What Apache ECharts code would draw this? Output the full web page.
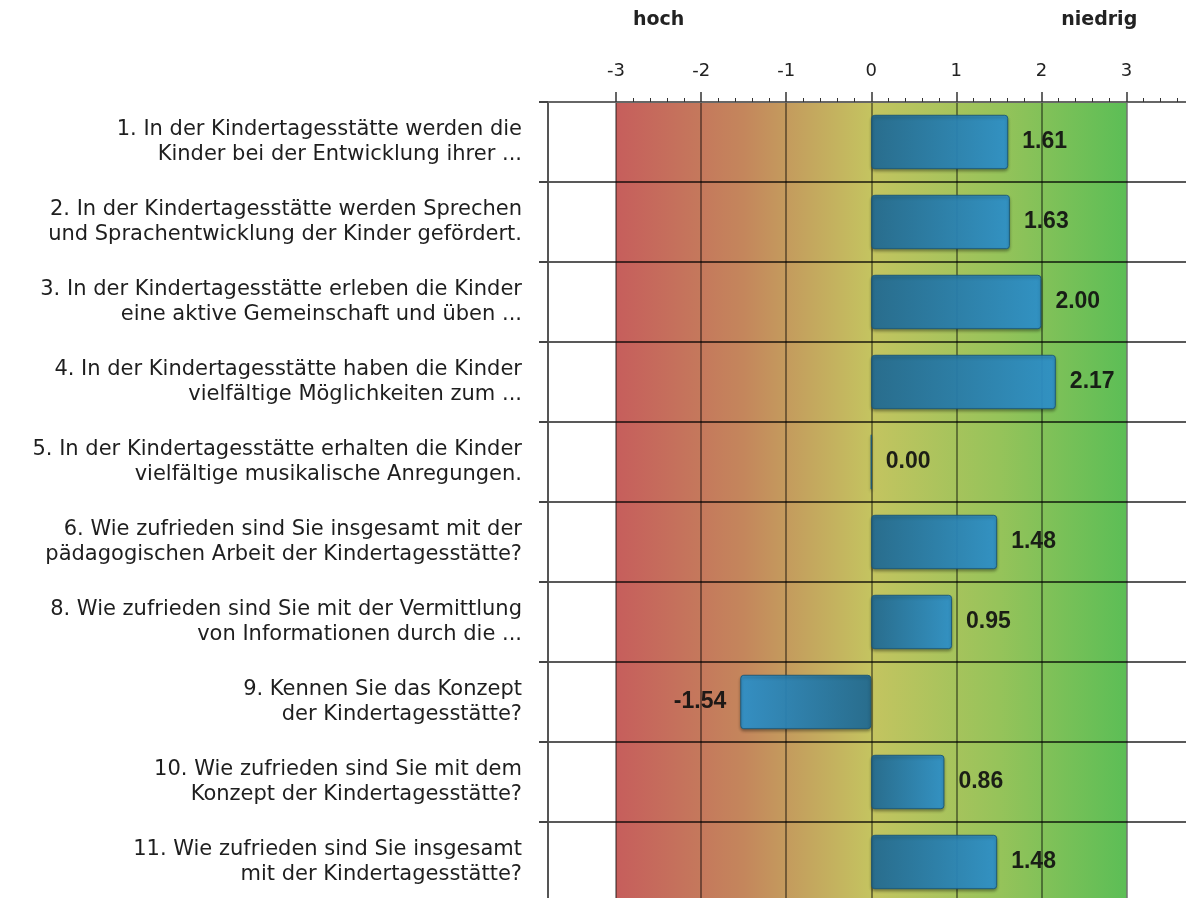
<!DOCTYPE html>
<html><head><meta charset="utf-8">
<script src="https://cdn.jsdelivr.net/npm/echarts@6/dist/echarts.min.js"></script>
<style>html,body{margin:0;padding:0;background:#fff}#c{width:1186px;height:898px}</style>
</head><body><div id="c"></div>
<script>
const categories = [
  '1. In der Kindertagesstätte werden die\nKinder bei der Entwicklung ihrer ...',
  '2. In der Kindertagesstätte werden Sprechen\nund Sprachentwicklung der Kinder gefördert.',
  '3. In der Kindertagesstätte erleben die Kinder\neine aktive Gemeinschaft und üben ...',
  '4. In der Kindertagesstätte haben die Kinder\nvielfältige Möglichkeiten zum ...',
  '5. In der Kindertagesstätte erhalten die Kinder\nvielfältige musikalische Anregungen.',
  '6. Wie zufrieden sind Sie insgesamt mit der\npädagogischen Arbeit der Kindertagesstätte?',
  '8. Wie zufrieden sind Sie mit der Vermittlung\nvon Informationen durch die ...',
  '9. Kennen Sie das Konzept\nder Kindertagesstätte?',
  '10. Wie zufrieden sind Sie mit dem\nKonzept der Kindertagesstätte?',
  '11. Wie zufrieden sind Sie insgesamt\nmit der Kindertagesstätte?'
];
const values = [1.61, 1.63, 2.00, 2.17, 0.00, 1.48, 0.95, -1.54, 0.86, 1.48];
const tickValues = [-3, -2, -1, 0, 1, 2, 3];
const headerLabels = ['hoch', 'niedrig'];
const headerAt = [-2.5, 2.68];
const axisMin = -3.8, axisMax = 3.7;
const scaleBand = [-3, 3];

const minorTicks = [];
for (let i = -15; i <= 18; i++) { if (i % 5 !== 0) minorTicks.push(Math.round(i * 20) / 100); }

const chart = echarts.init(document.getElementById('c'));
const bgGradient = new echarts.graphic.LinearGradient(0, 0, 1, 0, [
  {offset: 0, color: 'rgb(198,94,92)'},
  {offset: 0.25, color: 'rgb(196,134,92)'},
  {offset: 0.5, color: 'rgb(196,196,96)'},
  {offset: 0.75, color: 'rgb(150,195,90)'},
  {offset: 1, color: 'rgb(92,190,86)'}
]);
const dark = '#226b92', light = '#2f93cc';
const data = values.map(v => ({
  value: v,
  itemStyle: {
    color: new echarts.graphic.LinearGradient(0, 0, 1, 0, v < 0
      ? [{offset: 0, color: light}, {offset: 1, color: dark}]
      : [{offset: 0, color: dark}, {offset: 1, color: light}])
  },
  label: {position: v < 0 ? 'left' : 'right'}
}));

chart.setOption({
  animation: false,
  backgroundColor: '#fff',
  grid: {left: 548, width: 638, top: 102, height: 800, containLabel: false, outerBoundsMode: 'none'},
  xAxis: [{
    type: 'value', position: 'top', min: axisMin, max: axisMax, splitNumber: 7,
    axisLine: {show: true, onZero: false, lineStyle: {color: '#666', width: 2}},
    axisTick: {show: true, inside: false, length: 10, customValues: tickValues, lineStyle: {color: '#333', width: 1.5}},
    axisLabel: {customValues: tickValues, margin: 22, fontFamily: 'DejaVu Sans', fontSize: 18, color: '#222'},
    splitLine: {show: true, lineStyle: {color: 'rgba(0,0,0,0.55)', width: 1.5}},
    minorTick: {show: false}
  }, {
    type: 'value', position: 'top', min: axisMin, max: axisMax,
    axisLine: {show: false, onZero: false},
    axisLabel: {show: false},
    splitLine: {show: false},
    axisTick: {show: true, inside: false, length: 4, customValues: minorTicks, lineStyle: {color: '#333', width: 1}}
  }],
  yAxis: {
    type: 'category', inverse: true, data: categories,
    axisLine: {show: true, onZero: false, lineStyle: {color: '#555', width: 2}},
    axisTick: {show: true, length: 9, lineStyle: {color: '#444', width: 2}},
    axisLabel: {margin: 26, fontFamily: 'DejaVu Sans', fontSize: 21, lineHeight: 25, color: '#1e1e1e', align: 'right'},
    splitLine: {show: true, lineStyle: {color: 'rgba(0,0,0,0.65)', width: 2}}
  },
  series: [{
    type: 'bar', data: data, barWidth: '68%', z: 2,
    itemStyle: {borderColor: '#1b5878', borderWidth: 1, borderRadius: 3, opacity: 0.93,
      shadowColor: 'rgba(0,0,0,0.35)', shadowBlur: 3, shadowOffsetY: 2},
    label: {show: true, distance: 14, formatter: p => p.value.toFixed(2),
      fontFamily: 'Liberation Sans, Arial', fontWeight: 'bold', fontSize: 23, color: '#111'},
    markArea: {silent: true, z: -1, itemStyle: {color: bgGradient},
      data: [[{xAxis: scaleBand[0]}, {xAxis: scaleBand[1]}]]}
  }]
});

const hx = headerAt.map(v => chart.convertToPixel({xAxisIndex: 0}, v));
chart.setOption({
  graphic: headerLabels.map((t, i) => ({
    type: 'text', x: hx[i], y: 20,
    style: {text: t, fontFamily: 'DejaVu Sans', fontWeight: 'bold', fontSize: 19, fill: '#222',
      align: 'center', verticalAlign: 'middle'}
  }))
});
</script></body></html>
